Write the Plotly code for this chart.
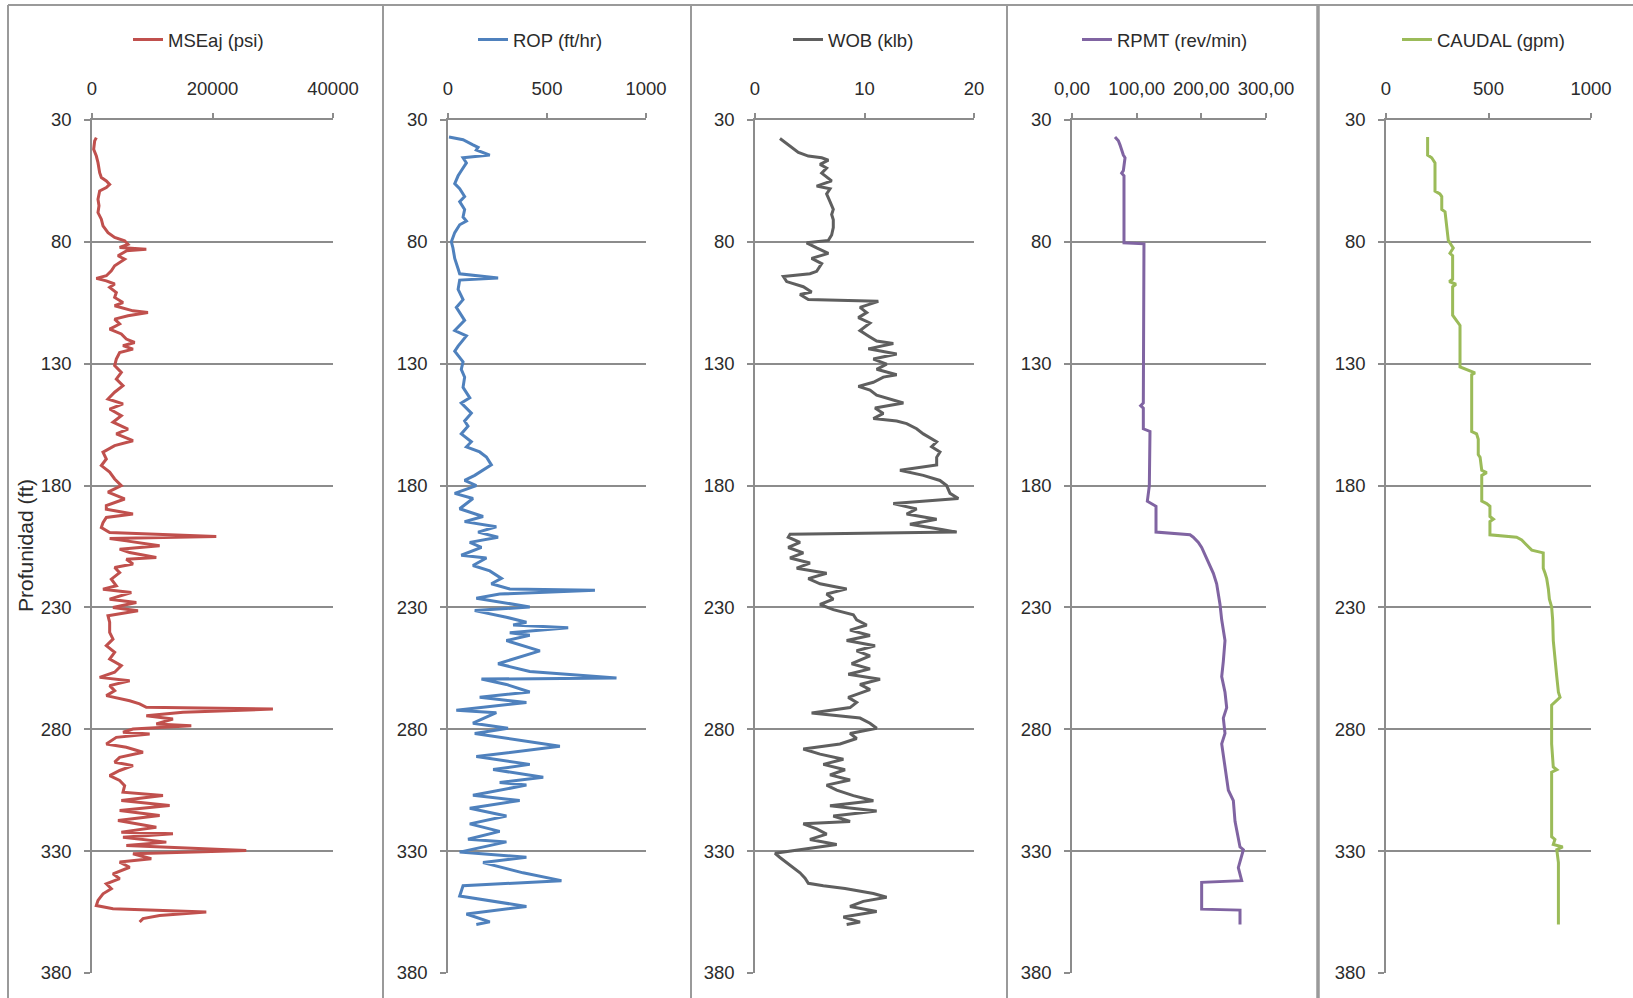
import plotly.graph_objects as go

W, H = 1633, 998

# ---------------- data ----------------
depth_ticks = [30, 80, 130, 180, 230, 280, 330, 380]

mse_depth = [37.2, 38.6, 42.0, 44.8, 47.5, 51.6, 53.6, 55.0, 56.4, 57.7, 59.1, 62.5, 65.2, 68.0, 70.7, 73.4,
             76.2, 78.2, 79.6, 81.0, 82.3, 83.0, 83.7, 85.7, 87.1, 89.8, 91.9, 93.9, 95.0, 96.0, 97.3, 98.7,
             100.8, 102.8, 104.9, 106.2, 108.3, 109.0, 110.3, 111.7, 113.7, 115.8, 117.8, 119.9, 121.3, 122.6,
             124.0, 125.4, 128.1, 130.8, 133.6, 136.3, 139.0, 141.7, 144.5, 146.5, 148.6, 151.3, 154.0, 156.8,
             158.8, 161.6, 163.6, 166.3, 169.1, 171.8, 174.5, 177.3, 180.0, 182.7, 185.5, 188.2, 189.7, 191.7,
             193.1, 195.2, 197.2, 199.3, 200.9, 201.7, 202.7, 204.7, 206.1, 207.5, 209.5, 210.2, 212.2, 213.6,
             215.7, 218.4, 221.1, 222.5, 223.9, 226.6, 228.0, 230.0, 231.4, 233.4, 236.1, 240.2, 243.0, 245.7,
             248.4, 251.2, 253.9, 256.6, 258.7, 260.1, 262.1, 264.2, 266.2, 268.3, 269.6, 271.0, 271.7, 273.0,
             274.4, 275.8, 277.8, 278.5, 279.9, 281.2, 281.9, 283.3, 286.0, 287.4, 289.4, 291.5, 293.5, 294.9,
             296.9, 299.0, 301.0, 303.1, 305.8, 307.2, 309.2, 311.3, 313.3, 315.4, 317.4, 320.2, 322.2, 322.9,
             324.3, 326.3, 327.7, 329.7, 331.1, 333.1, 334.5, 336.6, 339.3, 341.3, 343.4, 345.4, 347.5, 350.2,
             352.3, 353.6, 355.0, 356.4, 357.7, 359.1]
mse_psi = [719, 442, 277, 719, 995, 1272, 1548, 2378, 2931, 2378, 1272, 995, 1161, 995, 1548, 1825,
           2654, 3760, 5419, 5972, 4590, 9014, 5696, 4313, 5419, 3760, 3207, 2378, 719, 2378, 3760, 2931,
           4037, 3760, 5143, 3760, 6802, 9290, 5972, 3760, 4590, 2931, 4866, 5696, 7078, 5143,
           6802, 4590, 4037, 3760, 4866, 4037, 5143, 3760, 2654, 5143, 2931, 4866, 3484, 5972,
           4037, 6802, 3760, 1825, 2378, 1548, 2931, 3760, 4866, 2654, 5419, 2378, 2378, 6802,
           2378, 1825, 1548, 2931, 20627, 2931, 5696, 11226, 4590, 6249, 10673, 5696, 6802, 3760,
           4590, 3207, 4037, 1825, 6525, 2931, 7355, 3484, 7631, 2654, 2931, 2931, 3484, 2378,
           3760, 2931, 4866, 3760, 1272, 6249, 2931, 3760, 2378, 6249, 7908, 9014, 30028, 15097,
           9014, 13438, 10673, 16479, 6802, 5143, 9567, 4037, 2378, 5696, 8461, 4590, 3760, 6802,
           4590, 2931, 4590, 5419, 5143, 11779, 4866, 12885, 4590, 11226, 4313, 10673, 4866, 13438,
           5143, 12332, 5696, 25604, 6802, 9843, 4590, 6249, 3484, 4590, 2378, 3207, 1825, 995,
           719, 3484, 18968, 11226, 8461, 7908]

rop_depth = [37.0, 38.1, 40.2, 41.2, 42.3, 44.4, 45.5, 47.6, 50.8, 52.9, 56.1, 58.2, 61.4, 63.5, 66.7, 69.8,
             71.5, 73.0, 76.2, 80.0, 82.5, 86.8, 91.0, 93.1, 94.8, 95.7, 99.5, 103.7, 106.9, 112.2, 116.4,
             118.6, 122.8, 124.9, 129.2, 132.3, 135.5, 139.7, 144.0, 146.1, 150.3, 153.5, 155.6, 158.8, 162.0,
             164.1, 166.2, 168.3, 171.5, 173.6, 175.8, 177.9, 180.0, 183.2, 185.3, 189.5, 192.7, 194.8, 196.9,
             199.1, 201.2, 203.3, 205.4, 208.6, 209.7, 212.8, 215.0, 218.1, 220.3, 222.4, 223.0, 224.5, 226.2,
             229.8, 231.3, 234.0, 236.1, 237.2, 238.3, 240.4, 241.4, 243.6, 247.8, 253.1, 256.3, 259.0, 259.4,
             261.6, 264.7, 266.9, 269.0, 272.2, 273.2, 277.5, 279.6, 281.7, 287.0, 291.2, 294.4, 296.5, 299.7,
             301.8, 302.9, 307.1, 309.2, 312.4, 315.6, 318.8, 321.9, 325.1, 326.2, 330.4, 332.5, 334.7, 338.9,
             342.1, 344.2, 348.4, 352.7, 355.8, 359.0, 360.1]
rop_fthr = [5, 76, 126, 152, 143, 211, 76, 93, 67, 51, 34, 59, 84, 59, 84, 76,
            93, 59, 34, 17, 25, 34, 51, 59, 253, 59, 51, 76, 42, 84, 34,
            93, 51, 34, 76, 67, 84, 76, 110, 67, 118, 84, 101, 67, 118,
            93, 160, 194, 219, 177, 135, 84, 143, 34, 126, 59, 177, 84, 244,
            152, 253, 110, 169, 67, 194, 126, 211, 270, 219, 312, 742, 261, 143,
            413, 135, 295, 396, 329, 607, 312, 413, 295, 464, 253, 413, 851, 169,
            295, 413, 160, 396, 42, 244, 126, 303, 135, 565, 143, 413, 228, 481,
            261, 396, 126, 362, 110, 295, 110, 261, 101, 295, 59, 396, 177, 379,
            573, 76, 59, 396, 93, 211, 143]

wob_depth = [37.6, 39.1, 41.2, 43.3, 44.8, 45.5, 46.5, 48.2, 49.7, 51.8, 55.0, 57.1, 58.2, 60.3, 63.5, 66.7,
             68.8, 70.9, 74.1, 77.2, 79.4, 80.4, 82.5, 84.7, 86.8, 88.9, 92.1, 93.1, 94.2, 96.3, 98.4, 100.6,
             101.6, 103.7, 104.4, 106.9, 109.0, 111.1, 113.3, 116.4, 118.6, 120.7, 121.7, 123.9, 126.0, 128.1,
             130.2, 132.3, 134.5, 135.5, 137.6, 139.3, 140.8, 142.9, 146.1, 148.2, 150.4, 152.5, 153.5, 154.6,
             156.7, 158.8, 162.0, 164.1, 166.2, 168.4, 171.5, 173.7, 175.8, 177.9, 180.0, 183.2, 185.3, 187.4,
             189.6, 191.7, 193.8, 195.9, 198.0, 199.1, 200.0, 201.2, 203.3, 205.4, 207.6, 209.7, 211.8, 213.9,
             216.0, 218.2, 220.3, 222.4, 224.5, 226.6, 228.8, 230.9, 233.0, 235.1, 237.2, 239.3, 241.5, 243.6,
             245.7, 247.8, 249.9, 253.1, 255.2, 257.4, 259.5, 261.6, 263.7, 266.9, 269.0, 271.1, 273.3, 275.4,
             277.5, 279.6, 281.7, 283.8, 286.0, 288.1, 290.2, 292.3, 294.4, 296.6, 298.7, 300.8, 302.9, 305.0,
             307.2, 309.3, 311.4, 313.5, 315.6, 317.8, 318.8, 320.9, 323.0, 325.2, 327.3, 329.4, 330.9, 332.6,
             334.7, 336.8, 338.9, 341.1, 343.2, 344.2, 345.3, 347.4, 348.9, 350.6, 352.7, 354.8, 357.0, 359.1,
             360.1]
wob_klb = [2.28, 2.74, 3.35, 3.96, 4.87, 6.09, 6.70, 5.94, 6.54, 6.09, 7.00, 5.63, 6.85, 6.54, 6.85, 7.15,
           7.00, 7.15, 7.15, 7.00, 6.70, 4.72, 5.63, 6.70, 5.17, 6.09, 5.63, 5.02, 2.59, 2.89, 4.41, 5.17,
           4.11, 4.87, 11.26, 9.59, 10.20, 9.44, 10.50, 9.59, 10.35, 11.11, 12.63, 10.35, 12.94, 10.81,
           12.02, 11.11, 12.94, 11.72, 10.81, 9.44, 10.50, 11.11, 13.55, 10.96, 11.72, 10.81, 12.94, 13.85,
           14.76, 15.37, 16.59, 16.13, 16.89, 16.59, 16.59, 13.24, 15.37, 16.89, 17.50, 17.81, 18.57, 12.63,
           14.76, 13.85, 16.59, 14.15, 17.05, 18.42, 3.20, 3.04, 4.11, 3.04, 4.41, 3.20, 5.02, 3.81,
           6.54, 4.87, 5.94, 8.37, 6.54, 7.15, 5.94, 7.15, 8.98, 9.28, 10.20, 8.68, 10.50, 8.37,
           10.96, 9.28, 10.50, 8.83, 10.50, 8.52, 11.42, 9.59, 10.50, 8.52, 9.28, 8.68, 5.17, 9.59,
           10.50, 11.11, 8.68, 9.28, 7.76, 4.41, 5.94, 8.07, 6.24, 8.22, 6.85, 8.68, 6.54, 7.46,
           8.98, 10.81, 6.85, 11.11, 7.15, 8.68, 4.41, 5.63, 6.54, 5.02, 7.46, 4.11, 1.83, 2.28,
           2.89, 3.50, 4.11, 4.57, 4.87, 6.24, 8.22, 10.81, 12.02, 9.89, 8.68, 11.11, 8.07, 9.59,
           8.37]

rpm_depth = [37.0, 38.5, 40.2, 42.3, 44.4, 45.5, 50.8, 51.8, 52.9, 80.4, 80.8, 146.1, 147.2, 148.2, 156.7,
             157.8, 163.1, 169.4, 175.8, 180.0, 186.4, 188.5, 199.1, 200.2, 201.2, 203.3, 205.4, 208.6, 211.8,
             216.0, 220.3, 228.8, 235.1, 243.6, 252.1, 258.4, 264.8, 271.1, 275.4, 281.7, 286.0, 296.6, 305.0,
             309.3, 317.8, 328.3, 329.4, 336.8, 342.1, 342.8, 353.8, 354.2, 360.1]
rpm_revmin = [66.5, 71.7, 74.2, 76.8, 79.4, 82.0, 79.4, 76.8, 80.4, 80.4, 111.3, 110.3, 106.2, 110.3, 110.3,
              120.6, 120.6, 119.6, 120.6, 119.6, 116.5, 129.9, 129.9, 182.5, 187.6, 195.4, 200.5, 205.7, 210.8,
              218.6, 223.7, 228.9, 231.5, 236.6, 234.0, 231.5, 236.6, 239.2, 234.0, 236.6, 231.5, 236.6, 241.8,
              249.5, 252.1, 259.8, 265.0, 257.2, 262.4, 200.5, 200.5, 259.8, 259.8]

caudal_depth = [37.0, 44.4, 45.5, 47.6, 59.2, 60.3, 61.4, 66.7, 67.7, 73.0, 79.4, 81.5, 82.5, 84.7, 85.7, 95.3,
                96.3, 97.4, 98.4, 110.1, 112.2, 114.3, 131.3, 133.0, 133.8, 134.5, 157.8, 158.8, 161.0, 167.3,
                168.4, 173.7, 174.7, 175.8, 186.4, 187.4, 188.5, 192.7, 193.8, 194.8, 200.2, 201.2, 202.3, 204.4,
                206.5, 207.6, 213.9, 216.0, 218.2, 222.4, 226.6, 229.8, 235.1, 243.6, 252.1, 258.4, 264.8, 266.9,
                270.1, 286.0, 295.5, 296.6, 297.6, 324.1, 325.2, 327.3, 328.3, 329.4, 334.7, 360.1]
caudal_gpm = [203, 203, 223, 239, 239, 263, 272, 272, 288, 296, 304, 320, 328, 312, 325, 325,
              309, 341, 325, 325, 341, 361, 361, 410, 434, 418, 418, 442, 450, 450,
              459, 467, 491, 467, 467, 491, 507, 507, 524, 507, 507, 637, 662, 686,
              711, 767, 767, 776, 784, 792, 797, 808, 813, 816, 824, 833, 841, 849,
              808, 808, 816, 833, 808, 808, 824, 816, 862, 833, 841, 841]

series_names = ["MSEaj (psi)", "ROP (ft/hr)", "WOB (klb)", "RPMT (rev/min)", "CAUDAL (gpm)"]
series_depths = [mse_depth, rop_depth, wob_depth, rpm_depth, caudal_depth]
series_values = [mse_psi, rop_fthr, wob_klb, rpm_revmin, caudal_gpm]
x_tickvals = [[0, 20000, 40000], [0, 500, 1000], [0, 10, 20], [0, 100, 200, 300], [0, 500, 1000]]
x_ticktext = [["0", "20000", "40000"], ["0", "500", "1000"], ["0", "10", "20"],
              ["0,00", "100,00", "200,00", "300,00"], ["0", "500", "1000"]]
x_ranges = [[0, 40000], [0, 1000], [0, 20], [0, 300], [0, 1000]]

# ---------------- styling / layout ----------------
colors = ["#C0504D", "#4F81BD", "#5F5F5F", "#8064A2", "#9BBB59"]
plot_px = [(92, 333), (448, 646), (755, 974), (1072, 1266), (1386, 1591)]
legend_px = [128, 473, 788, 1077, 1397]
plot_top, plot_bot = 120, 973
grid_col = "#8C8C8C"
txt_col = "#2B2B2B"
FONT = "Liberation Sans, Arial, sans-serif"
FS = 18.5

fig = go.Figure()
layout = dict(
    width=W, height=H, margin=dict(l=0, r=0, t=0, b=0, pad=0, autoexpand=False),
    paper_bgcolor="white", plot_bgcolor="white",
    font=dict(family=FONT, size=FS, color=txt_col),
    showlegend=True,
)

for i in range(5):
    k = i + 1
    xa = "x" if k == 1 else f"x{k}"
    ya = "y" if k == 1 else f"y{k}"
    lg = "legend" if k == 1 else f"legend{k}"
    fig.add_trace(go.Scatter(
        x=series_values[i], y=series_depths[i], mode="lines", name=series_names[i],
        line=dict(color=colors[i], width=3), xaxis=xa, yaxis=ya, legend=lg,
    ))
    x0, x1 = plot_px[i]
    layout[f"xaxis{k}"] = dict(
        domain=[x0 / W, x1 / W], range=x_ranges[i], side="top", anchor=ya,
        tickvals=x_tickvals[i], ticktext=x_ticktext[i], automargin=False,
        showgrid=False, zeroline=False, showline=True, linecolor=grid_col, linewidth=1.5,
        ticks="outside", ticklen=5, tickcolor=grid_col, tickwidth=1.5,
        ticklabelstandoff=11, tickfont=dict(size=FS, color=txt_col),
    )
    layout[f"yaxis{k}"] = dict(
        domain=[1 - plot_bot / H, 1 - plot_top / H], range=[380, 30], anchor=xa,
        tickvals=depth_ticks, showgrid=True, gridcolor=grid_col, gridwidth=1.5, automargin=False,
        zeroline=False, showline=True, linecolor=grid_col, linewidth=1.5,
        ticks="outside", ticklen=6, tickcolor=grid_col, tickwidth=1.5,
        ticklabelstandoff=9, tickfont=dict(size=FS, color=txt_col),
    )
    layout[lg] = dict(
        x=legend_px[i] / W, y=1 - 40 / H, xanchor="left", yanchor="middle",
        bgcolor="rgba(0,0,0,0)", font=dict(size=FS, color=txt_col), borderwidth=0,
    )

layout["xaxis"] = layout.pop("xaxis1")
layout["yaxis"] = layout.pop("yaxis1")
fig.update_layout(**layout)

fig.add_annotation(
    text="Profunidad (ft)", x=25 / W, y=1 - 546 / H, xref="paper", yref="paper",
    textangle=-90, showarrow=False, xanchor="center", yanchor="middle",
    font=dict(size=21, color=txt_col),
)

# panel frames
border_col = "#9A9A9A"
fig.add_shape(type="line", xref="paper", yref="paper", x0=8 / W, x1=1, y0=1 - 5 / H, y1=1 - 5 / H,
              line=dict(color=border_col, width=2))
for bx, bw in [(8, 2), (383, 2), (691, 2), (1007, 2), (1318, 3.5)]:
    fig.add_shape(type="line", xref="paper", yref="paper", x0=bx / W, x1=bx / W, y0=0, y1=1 - 5 / H,
                  line=dict(color=border_col, width=bw))

fig.write_html("out.html", config={"displayModeBar": False},
               post_script="document.body.style.margin='0';document.body.style.overflow='hidden';")
